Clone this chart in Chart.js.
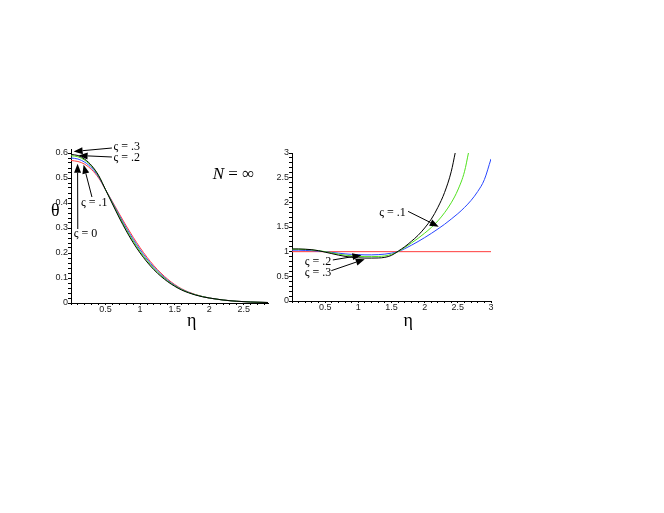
<!DOCTYPE html>
<html>
<head>
<meta charset="utf-8">
<script src="https://cdn.jsdelivr.net/npm/chart.js@4/dist/chart.umd.min.js"></script>
<style>
  html, body { margin: 0; padding: 0; background: #fff; }
  body { width: 664px; height: 513px; position: relative; overflow: hidden; }
  canvas { position: absolute; }
  #left { left: 0px; top: 120px; }
  #right { left: 270px; top: 120px; }
</style>
</head>
<body>
<canvas id="left" width="280" height="220"></canvas>
<canvas id="right" width="240" height="220"></canvas>
<script>
// ---- left panel: theta(eta) for several varsigma ----
const etaL = [0, 0.1, 0.2, 0.3, 0.4, 0.5, 0.6, 0.7, 0.8, 0.9, 1.0, 1.1, 1.2, 1.3, 1.4, 1.5, 1.6, 1.7, 1.8, 1.9, 2.0, 2.2, 2.4, 2.6, 2.85];
const thetaS3 = [0.594, 0.590, 0.575, 0.549, 0.510, 0.453, 0.396, 0.340, 0.288, 0.241, 0.200, 0.164, 0.133, 0.107, 0.085, 0.067, 0.052, 0.041, 0.032, 0.025, 0.020, 0.012, 0.007, 0.004, 0.002];
const thetaS2 = [0.589, 0.585, 0.571, 0.546, 0.508, 0.453, 0.399, 0.345, 0.294, 0.248, 0.206, 0.170, 0.138, 0.111, 0.088, 0.069, 0.054, 0.042, 0.033, 0.026, 0.020, 0.012, 0.007, 0.004, 0.002];
const thetaS1 = [0.580, 0.576, 0.563, 0.540, 0.504, 0.453, 0.402, 0.350, 0.300, 0.255, 0.213, 0.176, 0.143, 0.115, 0.091, 0.071, 0.055, 0.043, 0.033, 0.026, 0.020, 0.012, 0.007, 0.004, 0.002];
const thetaS0 = [0.570, 0.566, 0.555, 0.533, 0.500, 0.453, 0.405, 0.356, 0.308, 0.263, 0.221, 0.183, 0.149, 0.120, 0.095, 0.074, 0.057, 0.044, 0.034, 0.026, 0.020, 0.012, 0.007, 0.004, 0.002];
const leftXTicks = [0.5, 1, 1.5, 2, 2.5];
const leftYTicks = [0, 0.1, 0.2, 0.3, 0.4, 0.5, 0.6];

// ---- right panel ----
const etaR3 = [0, 0.1, 0.2, 0.3, 0.4, 0.5, 0.6, 0.7, 0.8, 0.9, 1.0, 1.1, 1.2, 1.3, 1.4, 1.5, 1.6, 1.7, 1.8, 1.9, 2.0, 2.1, 2.2, 2.3, 2.4, 2.46];
const valR3 = [1.055, 1.055, 1.05, 1.04, 1.02, 0.99, 0.96, 0.93, 0.905, 0.885, 0.875, 0.87, 0.87, 0.872, 0.885, 0.925, 1.01, 1.10, 1.21, 1.33, 1.48, 1.66, 1.90, 2.20, 2.62, 3.0];
const etaR2 = [0, 0.1, 0.2, 0.3, 0.4, 0.5, 0.6, 0.7, 0.8, 0.9, 1.0, 1.1, 1.2, 1.3, 1.4, 1.5, 1.6, 1.7, 1.8, 1.9, 2.0, 2.1, 2.2, 2.3, 2.4, 2.5, 2.6, 2.66];
const valR2 = [1.05, 1.05, 1.045, 1.035, 1.02, 1.0, 0.975, 0.95, 0.93, 0.915, 0.905, 0.9, 0.9, 0.903, 0.913, 0.945, 1.0, 1.085, 1.175, 1.27, 1.375, 1.49, 1.625, 1.79, 1.99, 2.25, 2.62, 3.0];
const etaR1 = [0, 0.1, 0.2, 0.3, 0.4, 0.5, 0.6, 0.7, 0.8, 0.9, 1.0, 1.1, 1.2, 1.3, 1.4, 1.5, 1.6, 1.7, 1.8, 1.9, 2.0, 2.1, 2.2, 2.3, 2.4, 2.5, 2.6, 2.7, 2.8, 2.9, 3.0];
const valR1 = [1.03, 1.03, 1.025, 1.02, 1.01, 1.0, 0.985, 0.97, 0.955, 0.945, 0.94, 0.935, 0.935, 0.94, 0.95, 0.97, 1.0, 1.06, 1.13, 1.205, 1.285, 1.37, 1.46, 1.555, 1.66, 1.77, 1.895, 2.04, 2.22, 2.46, 2.88];
const etaR0 = [0, 3];
const valR0 = [1, 1];
const rightXTicks = [0.5, 1, 1.5, 2, 2.5, 3];
const rightYTicks = [0, 0.5, 1, 1.5, 2, 2.5, 3];

const BLACK = '#000000', GREEN = 'rgb(80,225,30)', BLUE = 'rgb(40,70,255)', RED = 'rgb(255,60,60)';
const SERIF = '"Liberation Serif", "DejaVu Serif", serif';

function pts(xs, ys) { return xs.map((x, i) => ({ x: x, y: ys[i] })); }
function line(xs, ys, color) {
  return { data: pts(xs, ys), borderColor: color, borderWidth: 1, pointRadius: 0, fill: false, cubicInterpolationMode: 'monotone' };
}

// notes plugin: arrows and free text placed in data units of the panel
const notes = {
  id: 'notes',
  afterDraw(chart, args, opts) {
    const { ctx } = chart;
    const sx = chart.scales.x, sy = chart.scales.y;
    const px = v => sx.getPixelForValue(v), py = v => sy.getPixelForValue(v);
    ctx.save();
    ctx.fillStyle = '#000';
    ctx.strokeStyle = '#000';
    ctx.lineWidth = 1;
    (opts.arrows || []).forEach(a => {
      const x1 = px(a[0]), y1 = py(a[1]), x2 = px(a[2]), y2 = py(a[3]);
      const ang = Math.atan2(y2 - y1, x2 - x1);
      const hl = 9, hw = 3.5;
      const bx = x2 - hl * Math.cos(ang), by = y2 - hl * Math.sin(ang);
      ctx.beginPath(); ctx.moveTo(x1, y1); ctx.lineTo(bx, by); ctx.stroke();
      ctx.beginPath();
      ctx.moveTo(x2, y2);
      ctx.lineTo(bx + hw * Math.sin(ang), by - hw * Math.cos(ang));
      ctx.lineTo(bx - hw * Math.sin(ang), by + hw * Math.cos(ang));
      ctx.closePath(); ctx.fill();
    });
    (opts.texts || []).forEach(t => {
      ctx.textBaseline = 'middle';
      let x = px(t.at[0]);
      const y = py(t.at[1]);
      const parts = t.parts || [{ text: t.text, font: t.font }];
      if (t.center) {
        let w = 0;
        parts.forEach(p => { ctx.font = p.font; w += ctx.measureText(p.text).width; });
        x -= w / 2;
      }
      ctx.textAlign = 'left';
      parts.forEach(p => { ctx.font = p.font; ctx.fillText(p.text, x, y); x += ctx.measureText(p.text).width; });
    });
    ctx.restore();
  }
};

function axis(min, max, step, majors, width, height, tickLen, pad) {
  const o = {
    type: 'linear', min: min, max: max,
    afterBuildTicks: s => {
      const t = [];
      for (let i = 0; i * step <= max + 1e-9; i++) t.push({ value: +(i * step).toFixed(4) });
      s.ticks = t;
    },
    ticks: {
      autoSkip: false, maxRotation: 0, padding: pad,
      color: '#222', font: { family: '"Liberation Sans", Arial, sans-serif', size: 9 },
      callback: v => { const m = majors.find(k => Math.abs(k - v) < 1e-6); return m === undefined ? '' : String(m); }
    },
    grid: { drawOnChartArea: false, drawTicks: true, tickLength: tickLen, tickColor: '#000', tickWidth: 1 },
    border: { display: true, color: '#000', width: 1 }
  };
  if (width !== null) o.afterFit = s => { s.width = width; };
  if (height !== null) o.afterFit = s => { s.height = height; };
  return o;
}

const lbl = () => '12px ' + SERIF;

new Chart(document.getElementById('left'), {
  type: 'line',
  data: {
    datasets: [
      line(etaL, thetaS3, BLACK),
      line(etaL, thetaS2, GREEN),
      line(etaL, thetaS1, BLUE),
      line(etaL, thetaS0, RED)
    ]
  },
  options: {
    responsive: false, animation: false, devicePixelRatio: 1,
    layout: { padding: { left: 0, right: 12, top: 29, bottom: 0 } },
    scales: {
      x: axis(0, 2.85, 0.1, leftXTicks, null, 37, 2, -1),
      y: axis(0, 0.616, 0.02, leftYTicks, 71, null, 3, 0)
    },
    plugins: {
      legend: { display: false }, tooltip: { enabled: false },
      notes: {
        arrows: [
          [0.592, 0.620, 0.038, 0.606],
          [0.592, 0.584, 0.110, 0.590],
          [0.303, 0.424, 0.182, 0.553],
          [0.098, 0.296, 0.095, 0.557]
        ],
        texts: [
          { text: 'ς = .3', font: lbl(), at: [0.615, 0.624] },
          { text: 'ς = .2', font: lbl(), at: [0.615, 0.580] },
          { text: 'ς = .1', font: lbl(), at: [0.144, 0.400] },
          { text: 'ς = 0', font: lbl(), at: [0.038, 0.277] },
          { parts: [{ text: 'N', font: 'italic 17px ' + SERIF }, { text: ' = ∞', font: '17px ' + SERIF }], at: [2.05, 0.513] },
          { text: 'θ', font: '18px ' + SERIF, at: [-0.227, 0.365], center: true },
          { text: 'η', font: '18px ' + SERIF, at: [1.746, -0.075], center: true }
        ]
      }
    }
  },
  plugins: [notes]
});

new Chart(document.getElementById('right'), {
  type: 'line',
  data: {
    datasets: [
      line(etaR3, valR3, BLACK),
      line(etaR2, valR2, GREEN),
      line(etaR1, valR1, BLUE),
      line(etaR0, valR0, RED)
    ]
  },
  options: {
    responsive: false, animation: false, devicePixelRatio: 1,
    layout: { padding: { left: 0, right: 19, top: 33, bottom: 0 } },
    scales: {
      x: axis(0, 3, 0.1, rightXTicks, null, 39, 2, -1),
      y: axis(0, 3, 0.1, rightYTicks, 22, null, 3, 0)
    },
    plugins: {
      legend: { display: false }, tooltip: { enabled: false },
      notes: {
        arrows: [
          [1.750, 1.817, 2.212, 1.507],
          [0.616, 0.832, 1.047, 0.929],
          [0.593, 0.615, 1.097, 0.848]
        ],
        texts: [
          { text: 'ς = .1', font: lbl(), at: [1.316, 1.797] },
          { text: 'ς = .2', font: lbl(), at: [0.192, 0.803] },
          { text: 'ς = .3', font: lbl(), at: [0.192, 0.568] },
          { text: 'η', font: '18px ' + SERIF, at: [1.75, -0.42], center: true }
        ]
      }
    }
  },
  plugins: [notes]
});
</script>
</body>
</html>
